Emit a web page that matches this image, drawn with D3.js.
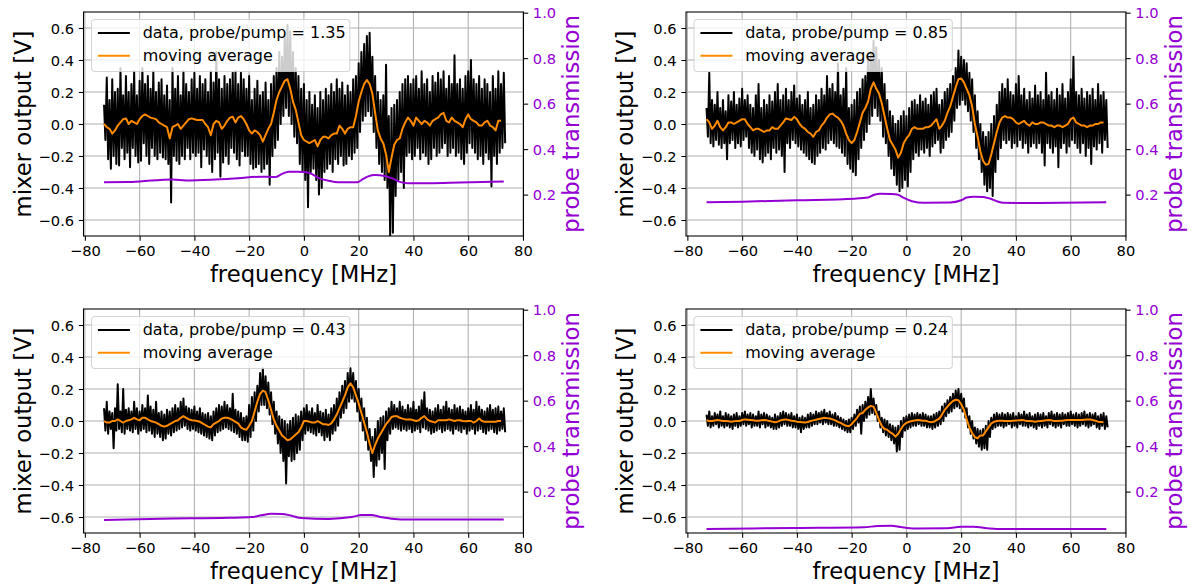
<!DOCTYPE html>
<html><head><meta charset="utf-8">
<script src="https://cdn.jsdelivr.net/npm/d3@7"></script>
<style>
body{margin:0;background:#fff}
svg{display:block}
text{font-family:"DejaVu Sans",sans-serif}
</style>
</head><body>
<svg id="chart" width="1194" height="587"></svg>
<script>
// ---------------- data ----------------
const ratios = ["1.35", "0.85", "0.43", "0.24"];
const xTicks = [-80, -60, -40, -20, 0, 20, 40, 60, 80];
const leftTicks = [-0.6, -0.4, -0.2, 0.0, 0.2, 0.4, 0.6];
const rightTicks = [0.2, 0.4, 0.6, 0.8, 1.0];

// raw mixer output: alternating local maxima / minima, one every 0.5 MHz starting at -73 MHz
const DATA_F0 = -73, DATA_STEP = 0.5;
const data135 = [
.12,-.10,.29,-.22,.15,-.28,.28,-.20,.20,-.25,.22,-.26,.35,-.15,.18,-.22,.30,-.18,.20,-.27,
.25,-.15,.33,-.20,.18,-.24,.27,-.23,.35,-.12,.25,-.20,.30,-.25,.22,-.15,.33,-.20,.20,-.22,
.26,-.18,.28,-.21,.18,-.22,.24,-.25,.15,-.49,.35,-.20,.22,-.23,.30,-.25,.18,-.20,.33,-.22,
.25,-.15,.20,-.22,.28,-.18,.32,-.20,.22,-.18,.30,-.27,.25,-.16,.28,-.20,.20,-.25,.33,-.30,
.26,-.22,.45,-.18,.28,-.33,.22,-.24,.30,-.20,.25,-.25,.28,-.15,.32,-.18,.33,-.22,.25,-.26,
.32,-.17,.28,-.20,.22,-.20,.30,-.25,.15,-.28,.22,-.27,.27,-.25,.18,-.30,.20,-.28,.26,-.25,
.15,-.38,.25,-.20,.30,-.15,.35,-.10,.45,.00,.42,.05,.55,.10,.62,.05,.58,.00,.45,-.08,
.35,-.12,.30,-.25,.22,-.30,.25,-.35,.15,-.52,.20,-.30,.12,-.28,.18,-.35,.10,-.44,.20,-.40,
.15,-.30,.22,-.28,.18,-.25,.25,-.30,.20,-.22,.28,-.25,.22,-.20,.26,-.26,.18,-.25,.24,-.20,
.20,-.22,.28,-.18,.30,-.15,.38,-.05,.45,.02,.50,.05,.55,.08,.57,.05,.42,-.05,.30,-.15,
.20,-.25,.15,-.30,.18,-.35,.37,-.40,.05,-.70,.10,-.68,.12,-.45,.15,-.35,.20,-.30,.25,-.40,
.28,-.20,.30,-.18,.25,-.22,.28,-.20,.30,-.15,.22,-.22,.33,-.18,.25,-.20,.28,-.25,.20,-.22,
.30,-.15,.26,-.20,.32,-.18,.28,-.15,.33,-.12,.22,-.20,.30,-.18,.25,-.15,.43,-.20,.25,-.18,
.28,-.22,.22,-.25,.30,-.18,.33,-.12,.40,-.15,.28,-.18,.25,-.22,.30,-.20,.22,-.25,.28,-.18,
.25,-.22,.20,-.39,.30,-.20,.22,-.25,.33,-.18,.25,-.15,.32,-.12];
const data085 = [
.10,-.08,.32,-.12,.15,-.14,.12,-.10,.20,-.13,.10,-.15,.15,-.12,.08,-.22,.18,-.12,.14,-.10,
.20,-.15,.12,-.12,.16,-.14,.22,-.10,.15,-.08,.18,-.15,.12,-.18,.10,-.20,.18,-.16,.25,-.22,
.10,-.24,.15,-.20,.12,-.18,.18,-.22,.14,-.15,.20,-.18,.25,-.16,.15,-.20,.18,-.30,.22,-.12,
.15,-.15,.20,-.10,.24,-.12,.16,-.14,.18,-.16,.12,-.18,.15,-.20,.20,-.22,.10,-.24,.12,-.25,
.18,-.20,.15,-.18,.22,-.15,.18,-.16,.30,-.12,.22,-.10,.25,-.12,.20,-.14,.38,-.15,.18,-.18,
.22,-.20,.35,-.25,.10,-.28,.12,-.30,.15,-.32,.20,-.22,.22,-.15,.28,-.10,.30,-.05,.42,.00,
.45,.05,.52,.10,.48,.05,.40,.02,.35,-.08,.25,-.12,.15,-.20,.08,-.28,.05,-.32,.00,-.38,
.02,-.42,.05,-.40,.08,-.35,.05,-.39,.10,-.30,.14,-.22,.15,-.18,.12,-.20,.18,-.16,.14,-.18,
.16,-.15,.12,-.20,.18,-.14,.20,-.12,.22,-.10,.12,-.18,.15,-.15,.20,-.10,.22,-.08,.25,-.05,
.30,.02,.35,.10,.46,.12,.42,.15,.40,.12,.38,.08,.32,.02,.28,-.05,.18,-.15,.08,-.22,
.00,-.30,-.05,-.38,-.08,-.42,-.05,-.40,.00,-.45,.05,-.30,.12,-.22,.20,-.15,.25,-.10,.22,-.12,
.28,-.10,.20,-.15,.18,-.12,.25,-.14,.30,-.10,.18,-.15,.22,-.12,.15,-.18,.20,-.14,.16,-.12,
.24,-.15,.18,-.12,.20,-.18,.15,-.26,.32,-.12,.18,-.15,.20,-.18,.15,-.14,.22,-.27,.18,-.15,
.25,-.12,.16,-.18,.20,-.14,.28,-.10,.42,-.12,.20,-.15,.18,-.18,.22,-.12,.16,-.20,.20,-.15,
.18,-.25,.22,-.14,.15,-.16,.25,-.12,.18,-.18,.20,-.10,.15,-.15];
const data043 = [
.08,-.06,.12,-.08,.06,-.05,.05,-.17,.08,-.06,.23,-.05,.06,-.07,.20,-.08,.07,-.05,.08,-.06,
.06,-.07,.12,-.05,.08,-.08,.06,-.06,.10,-.05,.08,-.07,.16,-.06,.09,-.08,.07,-.10,.12,-.08,
.05,-.10,.06,-.12,.04,-.11,.07,-.08,.06,-.09,.08,-.07,.10,-.06,.08,-.05,.12,-.04,.14,-.03,
.09,-.05,.08,-.06,.07,-.05,.09,-.06,.06,-.07,.08,-.08,.05,-.09,.04,-.10,.05,-.11,.03,-.12,
.06,-.09,.08,-.07,.10,-.06,.09,-.05,.12,-.04,.10,-.05,.08,-.06,.17,-.07,.07,-.08,.06,-.10,
.05,-.12,.02,-.12,.03,-.13,.10,-.10,.15,-.06,.18,.00,.22,.06,.30,.10,.33,.10,.28,.08,
.24,.04,.18,-.02,.12,-.08,.06,-.14,.03,-.20,.01,-.25,.00,-.39,-.02,-.22,.00,-.25,.02,-.24,
.04,-.20,.03,-.18,.06,-.12,.08,-.08,.10,-.06,.06,-.07,.08,-.08,.05,-.09,.10,-.07,.06,-.09,
.05,-.12,.07,-.10,.04,-.12,.08,-.08,.10,-.06,.14,-.03,.18,.02,.22,.05,.25,.08,.30,.12,
.33,.14,.30,.12,.25,.06,.20,.00,.14,-.06,.08,-.12,.02,-.18,-.05,-.25,-.10,-.35,-.05,-.28,
.00,-.24,.02,-.20,.03,-.30,.06,-.12,.08,-.08,.12,-.05,.10,-.04,.08,-.05,.12,-.06,.09,-.05,
.07,-.06,.10,-.05,.08,-.07,.12,-.06,.07,-.05,.09,-.07,.13,-.04,.18,-.05,.08,-.06,.07,-.08,
.06,-.07,.08,-.06,.10,-.05,.07,-.07,.09,-.06,.12,-.05,.08,-.06,.07,-.08,.10,-.05,.08,-.06,
.09,-.07,.07,-.05,.06,-.08,.08,-.06,.10,-.05,.07,-.08,.12,-.06,.09,-.05,.07,-.07,.06,-.08,
.08,-.06,.10,-.05,.07,-.07,.08,-.08,.09,-.06,.06,-.05,.08,-.07];
const data024 = [
.04,-.03,.06,-.04,.03,-.03,.05,-.02,.04,-.04,.06,-.03,.03,-.04,.05,-.03,.04,-.04,.03,-.05,
.04,-.03,.05,-.04,.03,-.03,.05,-.02,.06,-.03,.04,-.02,.05,-.04,.04,-.03,.03,-.03,.06,-.04,
.04,-.02,.05,-.04,.04,-.03,.03,-.04,.02,-.05,.04,-.05,.03,-.04,.05,-.03,.06,-.02,.05,-.03,
.04,-.03,.05,-.04,.03,-.04,.04,-.05,.02,-.07,.03,-.05,.02,-.04,.04,-.04,.05,-.03,.04,-.02,
.06,-.02,.05,-.01,.06,-.02,.07,-.01,.05,-.02,.06,-.02,.04,-.03,.05,-.03,.03,-.04,.02,-.05,
.01,-.06,.00,-.07,.01,-.07,.02,-.05,.04,-.03,.07,-.01,.09,-.08,.10,.00,.12,.02,.15,.04,
.20,.05,.14,.04,.10,.00,.06,-.04,.02,-.07,.01,-.09,.00,-.10,-.02,-.12,-.03,-.14,-.04,-.19,
-.03,-.18,.00,-.10,.02,-.06,.03,-.05,.04,-.04,.05,-.03,.04,-.03,.05,-.02,.04,-.03,.05,-.03,
.04,-.04,.03,-.04,.03,-.05,.04,-.04,.05,-.03,.06,-.02,.09,.00,.11,.03,.13,.05,.15,.06,
.17,.08,.19,.09,.20,.08,.17,.06,.14,.02,.08,-.04,.03,-.08,.00,-.11,-.04,-.14,-.05,-.16,
-.06,-.18,-.05,-.17,-.03,-.18,.00,-.10,.02,-.05,.04,-.04,.05,-.03,.04,-.03,.05,-.04,.04,-.03,
.05,-.02,.04,-.04,.05,-.03,.03,-.04,.05,-.02,.04,-.03,.06,-.03,.04,-.04,.05,-.03,.03,-.04,
.04,-.05,.05,-.03,.04,-.04,.05,-.03,.03,-.04,.05,-.02,.06,-.03,.04,-.04,.05,-.03,.04,-.04,
.05,-.02,.04,-.03,.05,-.03,.06,-.02,.04,-.03,.05,-.04,.04,-.03,.05,-.02,.06,-.03,.04,-.04,
.05,-.03,.04,-.02,.05,-.04,.03,-.05,.04,-.03,.05,-.05,.03,-.04];

// moving average, one value per MHz from -73 to 72 MHz
const MA_F0 = -73, MA_STEP = 1;
const ma135 = [
0.00,-0.02,-0.03,-0.06,-0.04,-0.01,0.01,0.03,0.035,0.00,
0.02,0.01,0.00,0.03,0.05,0.06,0.05,0.04,0.035,0.03,
0.01,0.00,-0.01,-0.02,-0.09,-0.02,-0.01,0.00,-0.03,-0.01,
0.01,0.03,0.035,0.03,0.025,0.025,0.025,0.00,-0.02,-0.07,
0.00,0.02,0.01,-0.03,-0.01,0.02,0.04,0.045,0.01,0.04,
0.05,0.03,0.00,-0.04,-0.06,-0.04,-0.05,-0.07,-0.11,-0.07,
-0.03,0.00,0.07,0.15,0.20,0.235,0.27,0.28,0.22,0.14,
0.09,0.01,-0.07,-0.10,-0.11,-0.12,-0.11,-0.10,-0.14,-0.10,
-0.08,-0.08,-0.09,-0.07,-0.06,-0.06,-0.01,-0.03,-0.06,-0.03,
-0.02,-0.02,0.05,0.14,0.20,0.25,0.275,0.25,0.19,0.07,
-0.04,-0.09,-0.12,-0.19,-0.30,-0.21,-0.13,-0.10,-0.09,-0.03,
0.01,0.04,0.02,-0.01,0.04,0.02,0.00,0.02,0.01,-0.01,
0.02,0.03,0.04,0.06,0.07,0.02,0.01,0.04,0.02,0.01,
0.00,-0.02,0.03,0.06,0.03,0.02,0.01,-0.01,-0.01,0.01,
0.02,-0.01,-0.02,-0.04,0.02,0.02];
const ma085 = [
0.03,0.01,-0.03,-0.01,0.02,-0.02,-0.04,-0.02,0.01,0.01,
0.00,0.01,0.02,0.03,0.03,0.00,-0.02,-0.04,-0.03,-0.03,
-0.04,-0.05,-0.04,-0.04,-0.02,-0.03,-0.03,-0.01,0.01,0.035,
0.03,0.025,0.045,0.03,0.00,-0.02,-0.03,-0.05,-0.06,-0.08,
-0.05,-0.04,-0.01,0.01,0.04,0.06,0.065,0.05,0.04,0.02,
-0.01,-0.06,-0.10,-0.12,-0.10,-0.05,0.01,0.07,0.10,0.14,
0.22,0.26,0.22,0.19,0.13,0.05,-0.03,-0.10,-0.13,-0.16,
-0.21,-0.18,-0.12,-0.09,-0.07,-0.03,-0.02,-0.03,-0.03,-0.03,
-0.02,-0.02,-0.01,0.01,0.03,-0.03,-0.01,0.02,0.07,0.11,
0.17,0.23,0.28,0.285,0.26,0.22,0.18,0.11,0.00,-0.08,
-0.17,-0.23,-0.255,-0.25,-0.19,-0.12,-0.05,0.01,0.04,0.05,
0.04,0.04,0.03,0.01,0.00,0.01,0.02,0.00,-0.01,0.01,
0.00,0.00,0.01,0.01,0.00,-0.01,-0.01,-0.02,-0.01,-0.01,
-0.02,-0.01,0.00,0.03,0.04,0.01,0.00,-0.01,-0.01,-0.02,
-0.01,-0.01,0.00,0.00,0.01,0.01];
const ma043 = [
0.00,-0.01,-0.01,0.00,0.00,0.01,0.00,-0.01,0.00,0.005,
0.01,0.02,0.01,0.005,0.02,0.02,0.01,0.00,-0.005,-0.01,
-0.02,-0.03,-0.035,-0.03,-0.02,-0.01,0.00,0.005,0.02,0.03,
0.02,0.01,0.005,0.003,0.00,-0.005,-0.015,-0.025,-0.035,-0.04,
-0.02,-0.01,0.00,0.015,0.02,0.02,0.015,0.005,-0.005,-0.015,
-0.04,-0.05,-0.055,-0.03,0.00,0.06,0.12,0.17,0.19,0.18,
0.13,0.07,0.01,-0.03,-0.06,-0.09,-0.105,-0.12,-0.115,-0.10,
-0.085,-0.07,-0.04,0.00,0.00,-0.005,-0.01,-0.01,0.00,-0.01,
-0.02,-0.02,-0.025,-0.015,0.01,0.04,0.08,0.12,0.16,0.21,
0.235,0.21,0.16,0.11,0.05,-0.01,-0.07,-0.14,-0.20,-0.15,
-0.11,-0.08,-0.05,-0.02,0.00,0.025,0.03,0.03,0.02,0.015,
0.01,0.01,0.01,0.005,0.00,0.005,0.02,0.03,0.01,0.00,
-0.005,-0.01,0.005,0.005,0.005,0.005,0.01,0.005,0.00,0.005,
0.005,0.00,-0.002,0.00,0.00,-0.01,0.00,0.015,0.00,-0.005,
-0.005,-0.005,-0.005,-0.005,0.00,0.00];
const ma024 = [
0.005,0.0,0.0,0.003,0.006,0.003,0.0,0.0,-0.002,-0.004,
-0.002,0.0,0.0,0.006,0.01,0.008,0.006,0.004,0.002,0.002,
0.004,0.006,0.004,0.0,-0.004,-0.008,-0.004,0.004,0.008,0.01,
0.006,0.002,0.0,-0.004,-0.006,-0.008,-0.01,-0.006,0.0,0.004,
0.008,0.012,0.016,0.02,0.018,0.016,0.01,0.004,-0.006,-0.012,
-0.022,-0.03,-0.033,-0.02,0.0,0.02,0.045,0.05,0.07,0.085,
0.094,0.09,0.05,0.005,-0.03,-0.05,-0.055,-0.07,-0.08,-0.098,
-0.08,-0.05,-0.025,-0.012,-0.005,0.0,0.003,0.006,0.004,0.002,
0.002,-0.004,-0.008,-0.005,0.005,0.015,0.04,0.07,0.09,0.11,
0.125,0.133,0.13,0.105,0.07,0.01,-0.04,-0.075,-0.10,-0.108,
-0.09,-0.09,-0.065,-0.04,-0.015,-0.005,0.0,0.002,0.002,0.0,
0.0,0.0,0.002,0.003,0.004,0.006,0.004,0.0,0.0,-0.002,
-0.004,-0.002,0.0,0.002,0.004,0.006,0.004,0.0,0.0,0.002,
0.002,0.004,0.006,0.006,0.006,0.006,0.006,0.006,0.008,0.01,
0.01,0.006,0.002,-0.004,-0.006,-0.008];

// probe transmission (right axis)
const trFreq135 = [-73,-64,-54,-48,-43,-34,-24,-15.5,-10.5,-8,-5.5,-2,1,3,5,9,12.5,19.5,21.5,23.5,26,29.5,32.5,35,38,45,57,73];
const tr135     = [0.254,0.255,0.263,0.266,0.262,0.265,0.272,0.279,0.277,0.291,0.301,0.301,0.298,0.29,0.275,0.261,0.254,0.254,0.268,0.28,0.286,0.282,0.27,0.256,0.25,0.25,0.253,0.258];
const trFreq085 = [-73,-60,-40,-19,-14,-12,-9.5,-5.5,-3,-1,2,6.5,16,20,22,24.5,28,30.5,33,35.5,45,73];
const tr085     = [0.166,0.169,0.175,0.182,0.187,0.198,0.204,0.203,0.199,0.186,0.171,0.164,0.165,0.175,0.187,0.191,0.19,0.183,0.171,0.164,0.163,0.166];
const trFreq043 = [-73,-52,-27.5,-19,-15.5,-12,-8,-4.5,-1,9,17.5,21,24.5,28.5,32,39,73];
const tr043     = [0.075,0.081,0.085,0.088,0.096,0.103,0.102,0.094,0.084,0.08,0.088,0.097,0.097,0.087,0.081,0.077,0.077];
const trFreq024 = [-73,-40,-15.5,-10.5,-5.5,-2,3,15,20,24.5,29.5,33,73];
const tr024     = [0.036,0.04,0.043,0.049,0.05,0.044,0.038,0.039,0.045,0.045,0.039,0.036,0.036];

// ---------------- drawing ----------------
const series = [
  {ratio: ratios[0], data: data135, ma: ma135, trF: trFreq135, tr: tr135},
  {ratio: ratios[1], data: data085, ma: ma085, trF: trFreq085, tr: tr085},
  {ratio: ratios[2], data: data043, ma: ma043, trF: trFreq043, tr: tr043},
  {ratio: ratios[3], data: data024, ma: ma024, trF: trFreq024, tr: tr024}
];

const COLS = [83.5, 686], ROWS = [12, 309], PW = 440, PH = 224;
const BLACK = "#000", ORANGE = "#ff8c00", PURPLE = "#9400d3";
const TICK_FS = 14.67, LABEL_FS = 22.7, LEG_FS = 16;
const svg = d3.select("#chart");
const minus = s => String(s).replace("-", "\u2212");

series.forEach((s, i) => {
  const L = COLS[i % 2], T = ROWS[Math.floor(i / 2)];
  const R = L + PW, B = T + PH;
  const x = d3.scaleLinear().domain([-80.5, 80.2]).range([L, R]);
  const y = d3.scaleLinear().domain([-0.7, 0.7]).range([B, T]);
  const y2 = d3.scaleLinear().domain([0.018, 1.003]).range([B, T]);
  const g = svg.append("g");
  const clipId = "clip" + i;
  svg.append("clipPath").attr("id", clipId).append("rect")
    .attr("x", L).attr("y", T).attr("width", PW).attr("height", PH);

  // grid
  const grid = g.append("g").attr("stroke", "#b0b0b0").attr("stroke-width", 1.07);
  xTicks.forEach(t => grid.append("line").attr("x1", x(t)).attr("x2", x(t)).attr("y1", T).attr("y2", B));
  leftTicks.forEach(t => grid.append("line").attr("x1", L).attr("x2", R).attr("y1", y(t)).attr("y2", y(t)));

  const plot = g.append("g").attr("clip-path", `url(#${clipId})`);
  const raw = s.data.map((v, k) => [DATA_F0 + k * DATA_STEP, v]);
  const ma = s.ma.map((v, k) => [MA_F0 + k * MA_STEP, v]);
  const tr = s.tr.map((v, k) => [s.trF[k], v]);
  const line = d3.line().x(d => x(d[0])).y(d => y(d[1]));
  plot.append("path").attr("d", line(raw)).attr("fill", "none")
    .attr("stroke", BLACK).attr("stroke-width", 2).attr("stroke-linejoin", "round");
  plot.append("path").attr("d", line(ma)).attr("fill", "none")
    .attr("stroke", ORANGE).attr("stroke-width", 2).attr("stroke-linejoin", "round");

  // legend (belongs to left axes)
  const lg = g.append("g").attr("transform", `translate(${L + 8},${T + 7.5})`);
  lg.append("rect").attr("width", 258.3).attr("height", 52).attr("rx", 3.2)
    .attr("fill", "#fff").attr("fill-opacity", 0.8).attr("stroke", "#cccccc").attr("stroke-opacity", 0.8).attr("stroke-width", 1.07);
  const items = [{label: "data, probe/pump = " + s.ratio, color: BLACK}, {label: "moving average", color: ORANGE}];
  items.forEach((it, k) => {
    const cy = 13.5 + k * 22.7;
    lg.append("line").attr("x1", 6.4).attr("x2", 38.4).attr("y1", cy).attr("y2", cy)
      .attr("stroke", it.color).attr("stroke-width", 2);
    lg.append("text").attr("x", 51.2).attr("y", cy + 5.3).attr("font-size", LEG_FS).attr("fill", "#000").text(it.label);
  });

  // transmission on twin axis
  const trLine = d3.line().x(d => x(d[0])).y(d => y2(d[1])).curve(d3.curveMonotoneX);
  plot.append("path").attr("d", trLine(tr)).attr("fill", "none")
    .attr("stroke", PURPLE).attr("stroke-width", 2);

  // spines
  g.append("rect").attr("x", L).attr("y", T).attr("width", PW).attr("height", PH)
    .attr("fill", "none").attr("stroke", "#000").attr("stroke-width", 1.07);

  // axes
  const ax = g.append("g").attr("transform", `translate(0,${B})`)
    .call(d3.axisBottom(x).tickValues(xTicks).tickSize(4.67).tickPadding(4.67).tickSizeOuter(0).tickFormat(d => minus(d)));
  const ay = g.append("g").attr("transform", `translate(${L},0)`)
    .call(d3.axisLeft(y).tickValues(leftTicks).tickSize(4.67).tickPadding(4.67).tickSizeOuter(0).tickFormat(d => minus(d3.format(".1f")(d))));
  const ay2 = g.append("g").attr("transform", `translate(${R},0)`)
    .call(d3.axisRight(y2).tickValues(rightTicks).tickSize(4.67).tickPadding(4.67).tickSizeOuter(0).tickFormat(d3.format(".1f")));
  [ax, ay, ay2].forEach(a => {
    a.select(".domain").remove();
    a.selectAll(".tick line").attr("stroke", "#000").attr("stroke-width", 1.07);
    a.selectAll("text").attr("font-size", TICK_FS).attr("font-family", "DejaVu Sans").attr("fill", "#000");
  });
  ay.selectAll("text").attr("dy", "0.36em");
  ay2.selectAll("text").attr("dy", "0.36em").attr("fill", PURPLE);

  // labels
  g.append("text").attr("x", (L + R) / 2).attr("y", B + 45.7).attr("text-anchor", "middle")
    .attr("font-size", LABEL_FS).attr("fill", "#000").text("frequency [MHz]");
  g.append("text").attr("transform", `translate(${L - 53},${(T + B) / 2}) rotate(-90)`).attr("text-anchor", "middle")
    .attr("font-size", LABEL_FS).attr("fill", "#000").text("mixer output [V]");
  g.append("text").attr("transform", `translate(${R + 55.5},${(T + B) / 2}) rotate(-90)`).attr("text-anchor", "middle")
    .attr("font-size", LABEL_FS).attr("fill", PURPLE).text("probe transmission");
});
</script>
</body></html>
